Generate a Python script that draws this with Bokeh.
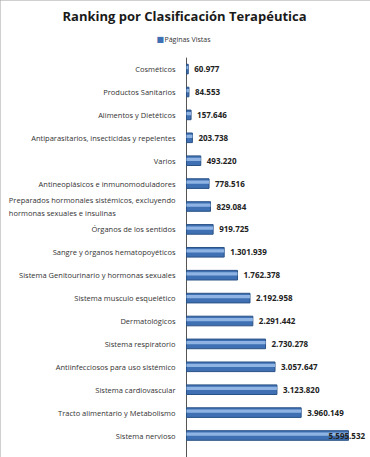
from bokeh.plotting import figure
from bokeh.models import ColumnDataSource, Range1d, LabelSet, Label
from bokeh.core.properties import value
from bokeh.transform import dodge
from bokeh.embed import file_html
from bokeh.resources import INLINE

categories = [
    "Cosméticos",
    "Productos Sanitarios",
    "Alimentos y Dietéticos",
    "Antiparasitarios, insecticidas y repelentes",
    "Varios",
    "Antineoplásicos e inmunomoduladores",
    "Preparados hormonales sistémicos, excluyendo\nhormonas sexuales e insulinas",
    "Órganos de los sentidos",
    "Sangre y órganos hematopoyéticos",
    "Sistema Genitourinario y hormonas sexuales",
    "Sistema musculo esquelético",
    "Dermatológicos",
    "Sistema respiratorio",
    "Antiinfecciosos para uso sistémico",
    "Sistema cardiovascular",
    "Tracto alimentario y Metabolismo",
    "Sistema nervioso",
]
values = [60977, 84553, 157646, 203738, 493220, 778516, 829084, 919725, 1301939,
          1762378, 2192958, 2291442, 2730278, 3057647, 3123820, 3960149, 5595532]
value_labels = ["60.977", "84.553", "157.646", "203.738", "493.220", "778.516", "829.084",
                "919.725", "1.301.939", "1.762.378", "2.192.958", "2.291.442", "2.730.278",
                "3.057.647", "3.123.820", "3.960.149", "5.595.532"]
series_name = "Páginas Vistas"
title_text = "Ranking por Clasificación Terapéutica"

n = len(categories)
vmax = max(values)
ypos = [n - 1 - i for i in range(n)]          # first category on top
offsets = [6 if v < 0.9 * vmax else -20 for v in values]
src = ColumnDataSource(dict(cat=categories, y=ypos, val=values, lab=value_labels, off=offsets))

W, H = 370, 457
px_per_unit = 162 / vmax          # horizontal scale: longest bar ~162 px
row_px = 22.9                      # vertical scale: one category per 22.9 px
x_start = -186 / px_per_unit
x_end = (W - 186) / px_per_unit
y_start = -22 / row_px
y_end = y_start + H / row_px

p = figure(width=W, height=H, output_backend="svg", toolbar_location=None, title=None,
           x_range=Range1d(x_start, x_end), y_range=Range1d(y_start, y_end),
           min_border_left=0, min_border_right=0, min_border_top=0, min_border_bottom=0)
p.styles = {"outline": "2px solid #a0a0a0", "outline-offset": "-2px"}
p.xaxis.visible = False
p.yaxis.visible = False
p.xgrid.visible = False
p.ygrid.visible = False
p.outline_line_color = None

# category axis line
p.segment(x0=0, x1=0, y0=y_start, y1=n - 0.5, line_color="#555555", line_width=1)

bars = p.hbar(y="y", right="val", left=0, height=0.42, source=src,
              fill_color="#3F70B3", line_color="#2A5286", line_width=1)
p.hbar(y=dodge("y", 0.06), right="val", left=0, height=0.14, source=src,
       fill_color="#8FB4E3", line_color=None)

cat_labels = LabelSet(x=0, y="y", text="cat", source=src, x_offset=-11,
                      text_align="right", text_baseline="middle",
                      text_font=value("Open Sans"), text_font_size="7.5px",
                      text_color="#333333", text_line_height=1.35)
p.add_layout(cat_labels)

val_labels = LabelSet(x="val", y="y", text="lab", source=src, x_offset="off",
                      text_baseline="middle", text_font=value("Open Sans"), text_font_size="8px",
                      text_font_style="bold", text_color="#222222")
p.add_layout(val_labels)

p.add_layout(Label(x=62, y=H - 15, x_units="screen", y_units="screen", text=title_text,
                   text_font="Open Sans", text_font_size="13px", text_font_style="bold",
                   text_color="#1a1a1a", text_baseline="middle"))
p.add_layout(Label(x=156, y=H - 39, x_units="screen", y_units="screen", text="■",
                   text_font="DejaVu Sans", text_font_size="8px",
                   text_color="#3F70B3", text_baseline="middle"))
p.add_layout(Label(x=164, y=H - 39, x_units="screen", y_units="screen", text=series_name,
                   text_font="Open Sans", text_font_size="7px",
                   text_color="#333333", text_baseline="middle"))

open("out.html", "w").write(file_html(p, INLINE))
